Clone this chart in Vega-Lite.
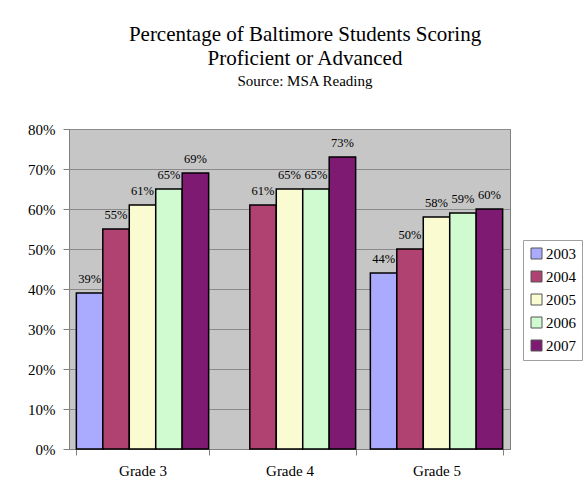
{
  "$schema": "https://vega.github.io/schema/vega-lite/v6.json",
  "width": 441,
  "height": 320,
  "padding": {"left": 27, "top": 24, "right": 0, "bottom": 0},
  "background": "white",
  "title": {
    "text": ["Percentage of Baltimore Students Scoring", "Proficient or Advanced"],
    "subtitle": "Source: MSA Reading",
    "font": "Liberation Serif",
    "fontSize": 21,
    "fontWeight": "normal",
    "color": "black",
    "lineHeight": 24,
    "subtitleFont": "Liberation Serif",
    "subtitleFontSize": 15,
    "subtitleColor": "black",
    "subtitlePadding": 5,
    "anchor": "middle",
    "frame": "bounds",
    "offset": 33
  },
  "data": {
    "values": [
      {"grade": "Grade 3", "year": "2003", "value": 0.39},
      {"grade": "Grade 3", "year": "2004", "value": 0.55},
      {"grade": "Grade 3", "year": "2005", "value": 0.61},
      {"grade": "Grade 3", "year": "2006", "value": 0.65},
      {"grade": "Grade 3", "year": "2007", "value": 0.69},
      {"grade": "Grade 4", "year": "2004", "value": 0.61},
      {"grade": "Grade 4", "year": "2005", "value": 0.65},
      {"grade": "Grade 4", "year": "2006", "value": 0.65},
      {"grade": "Grade 4", "year": "2007", "value": 0.73},
      {"grade": "Grade 5", "year": "2003", "value": 0.44},
      {"grade": "Grade 5", "year": "2004", "value": 0.50},
      {"grade": "Grade 5", "year": "2005", "value": 0.58},
      {"grade": "Grade 5", "year": "2006", "value": 0.59},
      {"grade": "Grade 5", "year": "2007", "value": 0.60}
    ]
  },
  "encoding": {
    "x": {
      "field": "grade",
      "type": "nominal",
      "scale": {"paddingInner": 0.1, "paddingOuter": 0.05},
      "axis": {
        "title": null,
        "labelAngle": 0,
        "labelFont": "Liberation Serif",
        "labelFontSize": 15,
        "labelColor": "black",
        "labelPadding": 8,
        "tickBand": "extent",
        "tickSize": 6,
        "tickColor": "#808080",
        "domainColor": "#808080"
      }
    },
    "xOffset": {
      "field": "year",
      "type": "nominal",
      "scale": {"domain": ["2003", "2004", "2005", "2006", "2007"], "paddingInner": 0, "paddingOuter": 0}
    },
    "y": {
      "field": "value",
      "type": "quantitative",
      "scale": {"domain": [0, 0.8], "nice": false},
      "axis": {
        "title": null,
        "format": ".0%",
        "values": [0, 0.1, 0.2, 0.3, 0.4, 0.5, 0.6, 0.7, 0.8],
        "labelFont": "Liberation Serif",
        "labelFontSize": 15,
        "labelColor": "black",
        "labelPadding": 8,
        "tickSize": 6,
        "tickColor": "#808080",
        "domainColor": "#808080",
        "grid": true,
        "gridColor": "#8a8a8a",
        "gridWidth": 1
      }
    }
  },
  "layer": [
    {
      "mark": {"type": "bar", "stroke": "black", "strokeWidth": 1.5},
      "encoding": {
        "color": {
          "field": "year",
          "type": "nominal",
          "scale": {
            "domain": ["2003", "2004", "2005", "2006", "2007"],
            "range": ["#aaaaff", "#b04272", "#fbfbd2", "#d0fad0", "#7f1a73"]
          },
          "legend": {
            "title": null,
            "orient": "none",
            "legendX": 454,
            "legendY": 111,
            "symbolType": "square",
            "symbolSize": 121,
            "symbolStrokeColor": "#555555",
            "symbolStrokeWidth": 1,
            "symbolOpacity": 1,
            "labelFont": "Liberation Serif",
            "labelFontSize": 15,
            "labelColor": "black",
            "labelOffset": 2,
            "rowPadding": 7,
            "strokeColor": "#a0a0a0",
            "fillColor": "white",
            "padding": 6
          }
        }
      }
    },
    {
      "mark": {"type": "text", "baseline": "alphabetic", "dy": -10, "font": "Liberation Serif", "fontSize": 12.5, "color": "black"},
      "encoding": {
        "text": {"field": "value", "type": "quantitative", "format": ".0%"}
      }
    }
  ],
  "config": {
    "font": "Liberation Serif",
    "view": {"fill": "#c6c6c6", "stroke": "#808080", "strokeWidth": 1},
    "axis": {"domainWidth": 1, "tickWidth": 1}
  }
}
